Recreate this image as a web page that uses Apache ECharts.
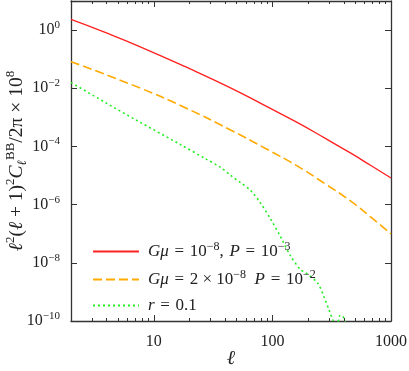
<!DOCTYPE html>
<html>
<head>
<meta charset="utf-8">
<script src="https://cdn.jsdelivr.net/npm/echarts@6/dist/echarts.min.js"></script>
<style>html,body{margin:0;padding:0;background:#fff;}#c{width:409px;height:371px;}</style>
</head>
<body>
<div id="c"></div>
<script>
// ---- data ----
var ellRed = [2, 3.88, 7.67, 18.4, 44.3, 87.5, 163, 282, 458, 677, 1000];
var valRed = [2.32, 0.83, 0.267, 0.0552, 0.0104, 2.48e-3, 6.6e-4, 1.85e-4, 5.86e-5, 2.21e-5, 8.24e-6];

var ellOrange = [2, 7.67, 18.4, 44.3, 87.5, 163, 282, 458, 677, 1000];
var valOrange = [0.0824, 0.01016, 2.15e-3, 3.7e-4, 8.5e-5, 2.1e-5, 5.0e-6, 1.32e-6, 3.7e-7, 9.8e-8];

var ellGreen = [2, 3.88, 7.19, 16.7, 27.2, 36.5, 44.3, 54, 65.4, 79.4, 96.5, 117, 143, 173, 191, 241, 271, 299, 323, 349, 372, 392, 416, 458];
var valGreen = [1.58e-2, 3.27e-3, 7.8e-4, 1.17e-4, 3.8e-5, 1.9e-5, 1.02e-5, 5.65e-6, 3.1e-6, 1.12e-6, 3.2e-7, 7.9e-8, 1.65e-8, 5.8e-9, 4.5e-9, 2.0e-9, 7.1e-10, 2.5e-10, 1.1e-10, 6e-11, 1.55e-10, 1.48e-10, 8e-11, 5e-11];

var xMajorTicks = [10, 100, 1000];
var xMinorTicks = [2,3,4,5,6,7,8,9,20,30,40,50,60,70,80,90,200,300,400,500,600,700,800,900];
var yMajorTicks = [1e-10, 1e-8, 1e-6, 1e-4, 1e-2, 1];

var seriesNames = ['Gmu1e-8', 'Gmu2e-8', 'r0.1'];
var legendLabels = [
  '{i|Gμ}{n|\u2004=\u200410}{s|−8}{n|,\u2004}{i|P}{n|\u2004=\u200410}{s|−3}',
  '{i|Gμ}{n|\u2004=\u20042 × 10}{s|−8}{n|\u2002}{i|P}{n|\u2004=\u200410}{s|−2}',
  '{i|r}{n|\u2004=\u20040.1}'
];

function pairs(xs, ys) { return xs.map(function (x, i) { return [x, ys[i]]; }); }

var FONT = 'Liberation Serif';
var AX = '#333';
var rich = {
  n: {fontFamily: FONT, fontSize: 17, color: '#222'},
  i: {fontFamily: FONT, fontSize: 17, fontStyle: 'italic', color: '#222'},
  s: {fontFamily: FONT, fontSize: 12, color: '#222', padding: [0, 0, 9, 0]}
};
var labRich = {
  b: {fontFamily: FONT, fontSize: 16, color: '#222'},
  s: {fontFamily: FONT, fontSize: 11, color: '#222', padding: [0, 0, 10, 0]}
};

function xAxisDef(pos, ticks, len, showLine, showLabel) {
  return {
    type: 'log', logBase: 10, min: 2, max: 1000, position: pos, gridIndex: 0,
    axisLine: {show: showLine, lineStyle: {color: AX, width: 1.3}},
    axisTick: {show: true, inside: true, length: len, customValues: ticks, lineStyle: {color: AX, width: 1}},
    axisLabel: showLabel ? {show: true, customValues: xMajorTicks, fontFamily: FONT, fontSize: 16, color: '#222', margin: 13,
      formatter: function (v) { return String(Math.round(v)); }} : {show: false},
    splitLine: {show: false}, minorTick: {show: false}
  };
}
function yAxisDef(pos, showLabel) {
  return {
    type: 'log', logBase: 10, min: 1e-10, max: 10, position: pos, gridIndex: 0,
    axisLine: {show: true, lineStyle: {color: AX, width: 1.3}},
    axisTick: {show: true, inside: true, length: 6, customValues: yMajorTicks, lineStyle: {color: AX, width: 1}},
    axisLabel: showLabel ? {show: true, customValues: yMajorTicks, margin: 11, rich: labRich,
      formatter: function (v) { var e = Math.round(Math.log10(v)); return '{b|10}{s|' + (e < 0 ? '−' + (-e) : e) + '}'; }} : {show: false},
    splitLine: {show: false}, minorTick: {show: false}
  };
}

var xa0 = xAxisDef('bottom', xMajorTicks, 6, true, true);
xa0.name = 'ℓ';
xa0.nameLocation = 'middle';
xa0.nameGap = 28;
xa0.nameMoveOverlap = false;
xa0.nameTextStyle = {fontFamily: FONT, fontSize: 20, fontStyle: 'italic', color: '#222'};

var ya0 = yAxisDef('left', true);
ya0.name = '{i|ℓ}{s|2}{n|(}{i|ℓ}{n| + 1)}{s|2}{i|C}{sb|ℓ}{s|BB}{n|/2π × 10}{s|8}';
ya0.nameLocation = 'middle';
ya0.nameGap = 42;
ya0.nameMoveOverlap = false;
ya0.nameTextStyle = {rich: {
  n: {fontFamily: FONT, fontSize: 19.5, color: '#222'},
  i: {fontFamily: FONT, fontSize: 19.5, fontStyle: 'italic', color: '#222'},
  s: {fontFamily: FONT, fontSize: 13, color: '#222', padding: [0, 0, 12, 0]},
  sb: {fontFamily: FONT, fontSize: 13, fontStyle: 'italic', color: '#222', padding: [12, 0, 0, 0]}
}};

var chart = echarts.init(document.getElementById('c'), null, {renderer: 'canvas'});
chart.setOption({
  animation: false,
  backgroundColor: '#fff',
  grid: {left: 71, right: 18, top: 1, bottom: 50, containLabel: false, outerBoundsMode: 'none'},
  xAxis: [
    xa0,
    xAxisDef('bottom', xMinorTicks, 3, false, false),
    xAxisDef('top', xMajorTicks, 6, true, false),
    xAxisDef('top', xMinorTicks, 3, false, false)
  ],
  yAxis: [ya0, yAxisDef('right', false)],
  legend: {
    orient: 'vertical', left: 87, top: 236, itemWidth: 46, itemHeight: 14, itemGap: 9,
    data: seriesNames,
    formatter: function (name) { return legendLabels[seriesNames.indexOf(name)]; },
    textStyle: {rich: rich, padding: [0, 0, 0, 4]}
  },
  series: [
    {name: seriesNames[0], type: 'line', data: pairs(ellRed, valRed), symbol: 'none', smooth: 0.5, clip: true,
      lineStyle: {color: '#ff2222', width: 1.4}, itemStyle: {color: '#ff2222', opacity: 0}},
    {name: seriesNames[1], type: 'line', data: pairs(ellOrange, valOrange), symbol: 'none', smooth: 0.5, clip: true,
      lineStyle: {color: '#ffaa00', width: 1.6, type: [9, 4]}, itemStyle: {color: '#ffaa00', opacity: 0}},
    {name: seriesNames[2], type: 'line', data: pairs(ellGreen, valGreen), symbol: 'none', smooth: 0.3, clip: true,
      lineStyle: {color: '#22ee22', width: 1.6, type: [2, 3]}, itemStyle: {color: '#22ee22', opacity: 0}}
  ]
});
</script>
</body>
</html>
